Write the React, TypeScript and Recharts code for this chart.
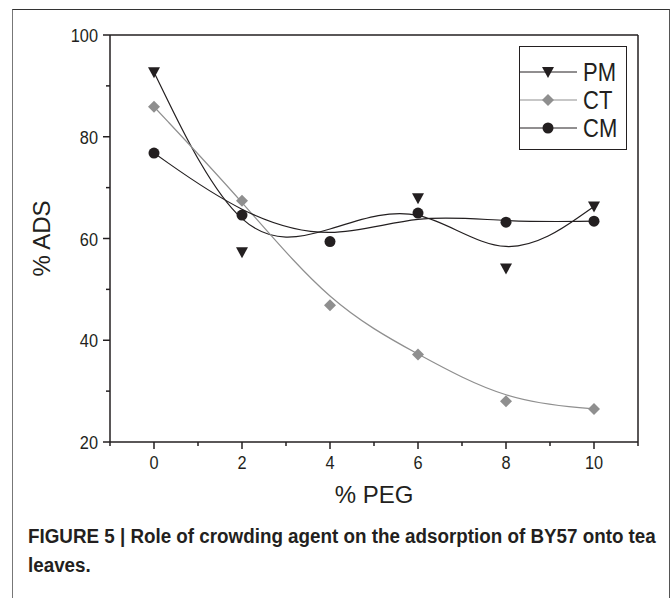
import React from "react";
import { LineChart, Line, XAxis, YAxis, ReferenceLine } from "recharts";

const pegLevels = [0, 2, 4, 6, 8, 10];
const pmValues = [92.7, 57.3, 61.5, 67.9, 54.1, 66.3];
const ctValues = [85.9, 67.4, 46.9, 37.2, 28.0, 26.5];
const cmValues = [76.8, 64.6, 59.4, 65.0, 63.2, 63.4];
// the PM marker at 4 % PEG is not drawn in the figure (the fit still uses it)
const pmMarkerShown = [true, true, false, true, true, true];

const xTicks = [-1, 0, 1, 2, 3, 4, 5, 6, 7, 8, 9, 10, 11];
const yTicks = [20, 30, 40, 50, 60, 70, 80, 90, 100];

const data = pegLevels.map((x, i) => ({
  x,
  pm: pmValues[i],
  ct: ctValues[i],
  cm: cmValues[i],
}));

const FONT = "'Liberation Sans', Arial, sans-serif";
const INK = "#231f20";
const GREY = "#8f8f8f";

function XTick(props: any) {
  const { x, y, payload } = props;
  const major = payload.value % 2 === 0;
  return (
    <g>
      <line x1={x} y1={y} x2={x} y2={y + (major ? 7 : 4)} stroke={INK} strokeWidth={1.5} />
      {major && payload.value >= 0 && payload.value <= 10 && (
        <text
          transform={`translate(${x},${y + 27}) scale(0.86,1)`}
          textAnchor="middle"
          fontSize={19}
          fill={INK}
          fontFamily={FONT}
        >
          {payload.value}
        </text>
      )}
    </g>
  );
}

function YTick(props: any) {
  const { x, y, payload } = props;
  const major = payload.value % 20 === 0;
  return (
    <g>
      <line x1={x} y1={y} x2={x - (major ? 7 : 4)} y2={y} stroke={INK} strokeWidth={1.5} />
      {major && (
        <text
          transform={`translate(${x - 12},${y + 7}) scale(0.86,1)`}
          textAnchor="end"
          fontSize={19}
          fill={INK}
          fontFamily={FONT}
        >
          {payload.value}
        </text>
      )}
    </g>
  );
}

function TriangleDot({ cx, cy, index, always }: any) {
  if (cx == null || cy == null) return null;
  if (!always && index != null && !pmMarkerShown[index]) return null;
  return <path d={`M${cx - 6},${cy - 5} L${cx + 6},${cy - 5} L${cx},${cy + 6} Z`} fill={INK} />;
}

function DiamondDot({ cx, cy }: any) {
  if (cx == null || cy == null) return null;
  return <path d={`M${cx},${cy - 6} L${cx + 6},${cy} L${cx},${cy + 6} L${cx - 6},${cy} Z`} fill={GREY} />;
}

function CircleDot({ cx, cy }: any) {
  if (cx == null || cy == null) return null;
  return <circle cx={cx} cy={cy} r={5.5} fill={INK} />;
}

const legendRows = [
  { name: "PM", color: INK, Dot: TriangleDot },
  { name: "CT", color: GREY, Dot: DiamondDot },
  { name: "CM", color: INK, Dot: CircleDot },
];

function LegendBox() {
  return (
    <svg width={108} height={104} style={{ display: "block" }}>
      <rect x={0.5} y={0.5} width={107} height={103} fill="#fff" stroke={INK} strokeWidth={1} />
      {legendRows.map((r, i) => {
        const cy = 26 + i * 28;
        return (
          <g key={r.name}>
            <line x1={1} y1={cy} x2={58} y2={cy} stroke={r.color} strokeWidth={1} />
            <r.Dot cx={29} cy={cy} always />
            <text
              transform={`translate(64,${cy + 9}) scale(0.88,1)`}
              fontSize={25}
              fill={INK}
              fontFamily={FONT}
            >
              {r.name}
            </text>
          </g>
        );
      })}
    </svg>
  );
}

export default function App() {
  return (
    <div
      style={{
        position: "fixed",
        left: 0,
        top: 0,
        width: 671,
        height: 598,
        background: "#fff",
        overflow: "hidden",
      }}
    >
      <div
        style={{
          position: "absolute",
          left: 12,
          top: 9,
          width: 656,
          height: 620,
          borderTop: "1.5px solid #333",
          borderLeft: "1.5px solid #777",
          borderRight: "1.5px solid #555",
        }}
      />
      <div style={{ position: "absolute", left: 0, top: 0 }}>
        <LineChart
          width={671}
          height={598}
          data={data}
          margin={{ top: 35, right: 33, left: 0, bottom: 89 }}
        >
          <XAxis
            dataKey="x"
            type="number"
            domain={[-1, 11]}
            ticks={xTicks}
            interval={0}
            tick={<XTick />}
            tickLine={false}
            tickSize={0}
            tickMargin={0}
            axisLine={{ stroke: INK, strokeWidth: 1.5 }}
            height={67}
            label={{
              value: "% PEG",
              position: "insideBottom",
              offset: 6,
              fontSize: 24,
              fill: INK,
              fontFamily: FONT,
            }}
          />
          <YAxis
            type="number"
            domain={[20, 100]}
            ticks={yTicks}
            interval={0}
            tick={<YTick />}
            tickLine={false}
            tickSize={0}
            tickMargin={0}
            axisLine={{ stroke: INK, strokeWidth: 1.5 }}
            width={110}
            label={{
              value: "% ADS",
              angle: -90,
              position: "insideLeft",
              offset: 41,
              fontSize: 24,
              fill: INK,
              fontFamily: FONT,
              style: { textAnchor: "middle" },
            }}
          />
          <ReferenceLine y={100} stroke={INK} strokeWidth={1.5} />
          <ReferenceLine x={11} stroke={INK} strokeWidth={1.5} />
          <Line
            dataKey="pm"
            type="basis"
            stroke={INK}
            strokeWidth={1.2}
            dot={<TriangleDot />}
            activeDot={false}
            isAnimationActive={false}
          />
          <Line
            dataKey="ct"
            type="basis"
            stroke={GREY}
            strokeWidth={1.2}
            dot={<DiamondDot />}
            activeDot={false}
            isAnimationActive={false}
          />
          <Line
            dataKey="cm"
            type="basis"
            stroke={INK}
            strokeWidth={1.2}
            dot={<CircleDot />}
            activeDot={false}
            isAnimationActive={false}
          />
        </LineChart>
      </div>
      <div style={{ position: "absolute", left: 519, top: 46 }}>
        <LegendBox />
      </div>
      <div
        style={{
          position: "absolute",
          left: 28,
          top: 522,
          fontFamily: FONT,
          fontWeight: 700,
          fontSize: 20,
          lineHeight: "29px",
          color: INK,
          transform: "scaleX(0.94)",
          transformOrigin: "left top",
          whiteSpace: "nowrap",
        }}
      >
        <div>FIGURE 5 | Role of crowding agent on the adsorption of BY57 onto tea</div>
        <div>leaves.</div>
      </div>
    </div>
  );
}
